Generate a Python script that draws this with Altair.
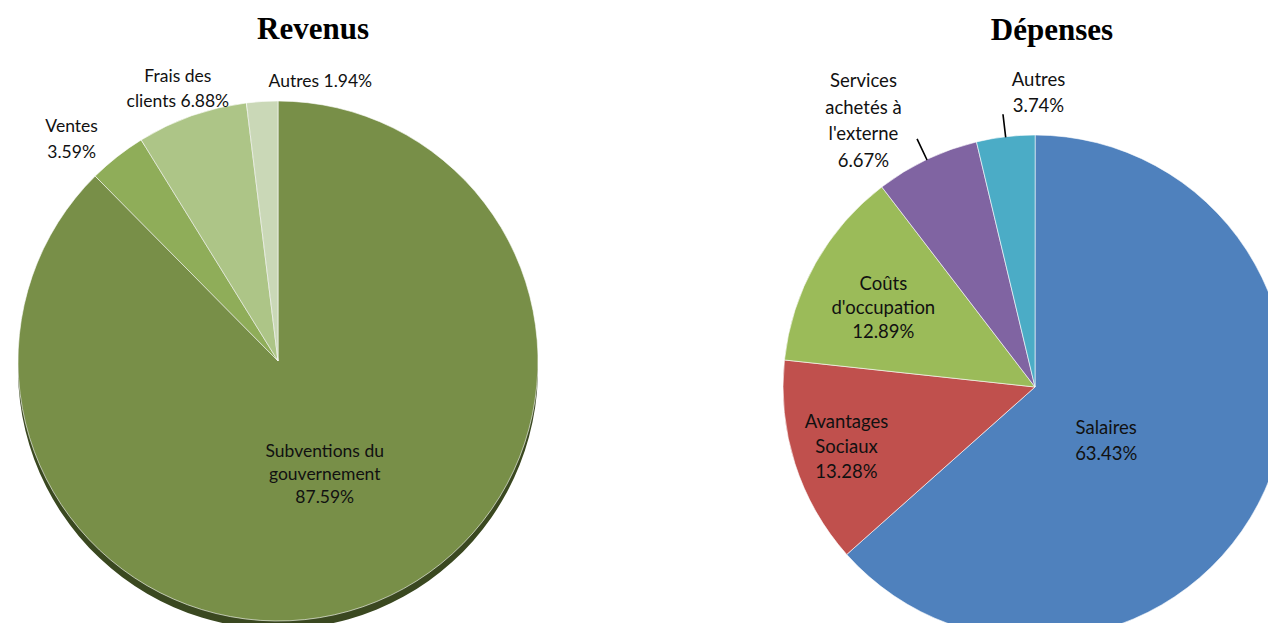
import altair as alt
import pandas as pd

# ---- data ----
rev_categories = ["Subventions du gouvernement", "Ventes", "Frais des clients", "Autres"]
rev_values = [87.59, 3.59, 6.88, 1.94]
rev_labels = ["Subventions du\ngouvernement\n87.59%", "Ventes\n3.59%", "Frais des\nclients 6.88%", "Autres 1.94%"]

dep_categories = ["Salaires", "Avantages Sociaux", "Coûts d'occupation",
                  "Services achetés à l'externe", "Autres"]
dep_values = [63.43, 13.28, 12.89, 6.67, 3.74]
dep_labels = ["Salaires\n63.43%", "Avantages\nSociaux\n13.28%", "Coûts\nd'occupation\n12.89%",
              "Services\nachetés à\nl'externe\n6.67%", "Autres\n3.74%"]

titles = ["Revenus", "Dépenses"]

# ---- styles ----
rev_colors = ["#788F48", "#8FAD59", "#ADC587", "#CAD8B7"]
dep_colors = ["#4F81BD", "#C0504D", "#9BBB59", "#8064A2", "#4BACC6"]
LABEL_FONT = "Lato"

rev_df = pd.DataFrame({"cat": rev_categories, "value": rev_values,
                       "label": rev_labels, "idx": range(len(rev_values))})
dep_df = pd.DataFrame({"cat": dep_categories, "value": dep_values,
                       "label": dep_labels, "idx": range(len(dep_values))})

theta_scale = alt.Scale(domain=[0, 100])


def base(df):
    return (alt.Chart(df)
            .transform_window(end="sum(value)", sort=[alt.SortField("idx")],
                              frame=[None, 0])
            .transform_calculate(start="datum.end - datum.value",
                                 mid="datum.end - datum.value / 2",
                                 a0="datum.end - datum.value / 2 - 0.01",
                                 a1="datum.end - datum.value / 2 + 0.01"))


def pie(df, cats, colors, cx, cy, r):
    return base(df).mark_arc(radius=r, stroke="white", strokeWidth=1,
                             strokeOpacity=0.6).encode(
        x=alt.value(cx), y=alt.value(cy),
        theta=alt.Theta("start:Q", scale=theta_scale),
        theta2="end:Q",
        fill=alt.Color("cat:N", scale=alt.Scale(domain=cats, range=colors), legend=None),
    )


def label(df, cat, cx, cy, r, size, lh, dx=0, dy=0):
    text = df.loc[df["cat"] == cat, "label"].iloc[0]
    n_lines = text.count("\n") + 1
    # centre the multi-line block on the anchor point
    dy_total = dy - (n_lines - 1) * lh / 2
    return base(df).transform_filter(alt.datum.cat == cat).mark_text(
        radius=r, dx=dx, dy=dy_total, font=LABEL_FONT, fontSize=size, lineHeight=lh,
        lineBreak="\n", align="center", baseline="middle", color="#111111",
    ).encode(
        x=alt.value(cx), y=alt.value(cy),
        theta=alt.Theta("mid:Q", scale=theta_scale),
        text="label:N",
    )


def leader(df, cat, cx, cy, r0, r1):
    return base(df).transform_filter(alt.datum.cat == cat).mark_arc(
        radius=r0, radius2=r1, fillOpacity=0, stroke="black", strokeWidth=1.3,
    ).encode(
        x=alt.value(cx), y=alt.value(cy),
        theta=alt.Theta("a0:Q", scale=theta_scale),
        theta2="a1:Q",
    )


def title(text, cx, y):
    return alt.Chart(pd.DataFrame({"t": [text]})).mark_text(
        font="Liberation Serif", fontSize=31, fontWeight="bold",
        align="center", baseline="alphabetic", color="black",
    ).encode(x=alt.value(cx), y=alt.value(y), text="t:N")


# left pie geometry (chart coordinates)
LX, LY, LR = 270, 353, 260
# right pie
RX, RY, RR = 1027, 379, 252

shadow = base(rev_df).mark_arc(radius=LR, color="#3A4820").encode(
    x=alt.value(LX), y=alt.value(LY + 8),
    theta=alt.Theta("start:Q", scale=theta_scale), theta2="end:Q",
)

left = alt.layer(
    shadow,
    pie(rev_df, rev_categories, rev_colors, LX, LY, LR),
    label(rev_df, "Subventions du gouvernement", LX, LY, 123, 17.5, 23),
    label(rev_df, "Ventes", LX, LY, 290, 17.5, 26, dx=-27, dy=7),
    label(rev_df, "Frais des clients", LX, LY, 290, 17.5, 25, dx=-4, dy=2),
    label(rev_df, "Autres", LX, LY, 290, 17.5, 25, dx=60, dy=10),
)

right = alt.layer(
    pie(dep_df, dep_categories, dep_colors, RX, RY, RR),
    label(dep_df, "Salaires", RX, RY, 89, 18.5, 26, dx=-10, dy=18),
    label(dep_df, "Avantages Sociaux", RX, RY, 198, 18.5, 25),
    label(dep_df, "Coûts d'occupation", RX, RY, 174, 18.5, 24, dy=6),
    label(dep_df, "Services achetés à l'externe", RX, RY, 318, 18.5, 26.5, dx=-35, dy=21),
    label(dep_df, "Autres", RX, RY, 296, 18.5, 26, dx=38, dy=0),
    leader(dep_df, "Services achetés à l'externe", RX, RY, RR, RR + 22),
    leader(dep_df, "Autres", RX, RY, RR, RR + 22),
)

chart = alt.layer(
    left, right,
    title(titles[0], 305, 31),
    title(titles[1], 1044, 32),
).resolve_scale(fill="independent").properties(
    width=1260, height=615, padding=0, autosize="none",
).configure_view(stroke=None)

chart.save("out.html", embed_options={"renderer": "svg", "actions": False})
